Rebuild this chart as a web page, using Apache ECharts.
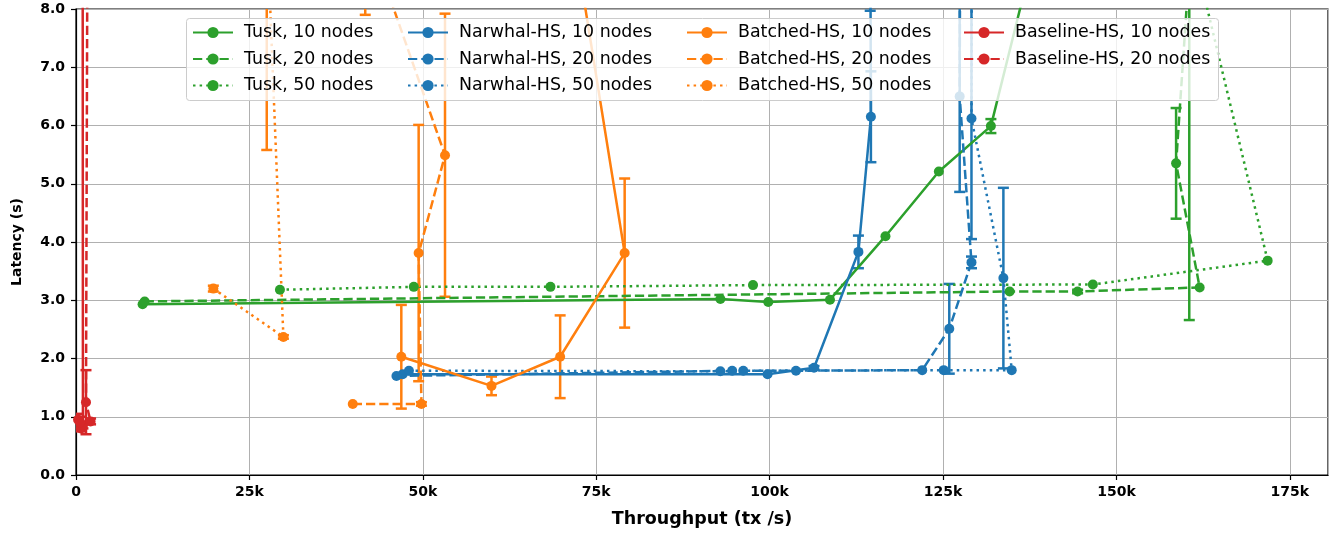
<!DOCTYPE html>
<html><head><meta charset="utf-8">
<script src="https://cdn.jsdelivr.net/npm/echarts@6/dist/echarts.min.js"></script>
<style>html,body{margin:0;padding:0;background:#fff}#c{width:1335px;height:533px}</style>
</head><body><div id="c"></div>
<script>
// ---- data (throughput tx/s, latency s, latency error s) ----
const xTickStep = 25000;
const yTickStep = 1;

const tusk10    = [[9600,2.93],[92900,3.02],[99800,2.97],[108700,3.01],[116700,4.10],[124400,5.21],[131900,5.99],[138600,9.2]];
const tusk10Err = [0,0,0,0,0,0,0.12,0.3];
const tusk20    = [[9900,2.98],[134600,3.15],[144400,3.15],[162000,3.22],[158600,5.35],[160500,8.7]];
const tusk20Err = [0,0,0.03,0,0.95,6.04];
const tusk50    = [[29400,3.18],[48700,3.23],[68400,3.23],[97600,3.26],[146600,3.27],[171800,3.68],[161100,9.0]];
const tusk50Err = [0,0,0,0,0,0,0];

const narwhal10    = [[47100,1.73],[99700,1.73],[106400,1.84],[112800,3.83],[114600,6.15],[114500,10.0]];
const narwhal10Err = [0,0,0.03,0.28,0.78,2.03];
const narwhal20    = [[46200,1.70],[94600,1.79],[103800,1.79],[122000,1.80],[125900,2.51],[129100,3.65],[127400,6.50],[127500,10.5]];
const narwhal20Err = [0,0,0,0,0.77,0.1,1.64,1.5];
const narwhal50    = [[48000,1.79],[92900,1.78],[96200,1.79],[125100,1.80],[134900,1.80],[133700,3.38],[129100,6.12],[129200,10.5]];
const narwhal50Err = [0,0,0,0,0,1.55,2.07,1.5];

const batched10    = [[46900,2.03],[59900,1.53],[69800,2.03],[79100,3.81],[72100,9.0]];
const batched10Err = [0.89,0.16,0.71,1.28,0.5];
const batched20    = [[39900,1.22],[49800,1.22],[49400,3.81],[53200,5.49],[41700,9.4]];
const batched20Err = [0,0.03,2.2,2.43,1.5];
const batched50    = [[19800,3.20],[29900,2.37],[27500,9.5]];
const batched50Err = [0.05,0.03,3.92];

const baseline10    = [[300,0.95],[700,0.80],[1000,0.85],[940,14]];
const baseline10Err = [0.1,0.05,0.05,1];
const baseline20    = [[600,0.90],[2100,0.92],[1440,1.25],[1770,14]];
const baseline20Err = [0.1,0.05,0.55,1];

const X_MIN = 0, X_MAX = 180500, Y_MIN = 0, Y_MAX = 8;

// ---- styling ----
const C = {green:'#2ca02c', blue:'#1f77b4', orange:'#ff7f0e', red:'#d62728'};
const DASH = [9.25,4];
const DOT = [2.5,4.1];
const FONT = 'DejaVu Sans';

const defs = [
  ['Tusk, 10 nodes', tusk10, tusk10Err, C.green, 'solid'],
  ['Tusk, 20 nodes', tusk20, tusk20Err, C.green, DASH],
  ['Tusk, 50 nodes', tusk50, tusk50Err, C.green, DOT],
  ['Narwhal-HS, 10 nodes', narwhal10, narwhal10Err, C.blue, 'solid'],
  ['Narwhal-HS, 20 nodes', narwhal20, narwhal20Err, C.blue, DASH],
  ['Narwhal-HS, 50 nodes', narwhal50, narwhal50Err, C.blue, DOT],
  ['Batched-HS, 10 nodes', batched10, batched10Err, C.orange, 'solid'],
  ['Batched-HS, 20 nodes', batched20, batched20Err, C.orange, DASH],
  ['Batched-HS, 50 nodes', batched50, batched50Err, C.orange, DOT],
  ['Baseline-HS, 10 nodes', baseline10, baseline10Err, C.red, 'solid'],
  ['Baseline-HS, 20 nodes', baseline20, baseline20Err, C.red, DASH]
];

function errRender(params, api){
  const x = api.value(0), y = api.value(1), e = api.value(2);
  if (!(e > 0)) return null;
  const lo = y - e, hi = y + e;
  const loC = Math.max(lo, Y_MIN), hiC = Math.min(hi, Y_MAX);
  if (loC >= hiC) return null;
  const p1 = api.coord([x, loC]), p2 = api.coord([x, hiC]);
  const style = {stroke: api.visual('color'), lineWidth: 2.5, fill: null};
  const cap = 5.5;
  const ch = [{type:'line', shape:{x1:p1[0],y1:p1[1],x2:p2[0],y2:p2[1]}, style}];
  if (lo >= Y_MIN) ch.push({type:'line', shape:{x1:p1[0]-cap,y1:p1[1],x2:p1[0]+cap,y2:p1[1]}, style});
  if (hi <= Y_MAX) ch.push({type:'line', shape:{x1:p2[0]-cap,y1:p2[1],x2:p2[0]+cap,y2:p2[1]}, style});
  return {type:'group', children: ch};
}

const series = [];
defs.forEach(([name, pts, errs, color, dash]) => {
  series.push({
    name, type:'line', data: pts, symbol:'circle', symbolSize: 10, showSymbol: true,
    clip: true, z: 2,
    itemStyle:{color}, lineStyle:{color, width:2.5, type: dash, cap:'butt'},
    emphasis:{disabled:true}
  });
  series.push({
    name: name + ' err', type:'custom', renderItem: errRender, clip: true, z: 2,
    itemStyle:{color},
    data: pts.map((p,i) => [p[0], p[1], errs[i]]),
    encode:{x:0, y:1}
  });
});

const legendCols = [
  {left:192, names: defs.slice(0,3).map(d=>d[0])},
  {left:407, names: defs.slice(3,6).map(d=>d[0])},
  {left:686, names: defs.slice(6,9).map(d=>d[0])},
  {left:963, names: defs.slice(9,11).map(d=>d[0])}
];

const chart = echarts.init(document.getElementById('c'), null, {renderer:'canvas'});
chart.setOption({
  animation: false,
  backgroundColor: '#fff',
  textStyle: {fontFamily: FONT},
  grid: {left:76, top:9, width:1252, height:467, show:true, borderColor:'#000', borderWidth:1.2, backgroundColor:'transparent'},
  xAxis: {
    type:'value', min:X_MIN, max:X_MAX, interval:xTickStep,
    name:'Throughput (tx /s)', nameLocation:'middle', nameGap:35,
    nameTextStyle:{fontFamily:FONT, fontSize:17.5, fontWeight:'bold', color:'#000'},
    axisLine:{show:true, onZero:false, lineStyle:{color:'#000', width:1.2}},
    axisTick:{show:true, length:5, lineStyle:{color:'#000', width:1.2}},
    axisLabel:{fontFamily:FONT, fontSize:14, fontWeight:'bold', color:'#000', margin:10,
      showMaxLabel:false,
      formatter: v => (Math.round(v) % xTickStep === 0) ? (v === 0 ? '0' : (v/1000) + 'k') : ''},
    splitLine:{show:true, lineStyle:{color:'#b0b0b0', width:1}}
  },
  yAxis: {
    type:'value', min:Y_MIN, max:Y_MAX, interval:yTickStep,
    name:'Latency (s)', nameLocation:'middle', nameGap:52, nameRotate:90,
    nameTextStyle:{fontFamily:FONT, fontSize:14, fontWeight:'bold', color:'#000'},
    axisLine:{show:true, onZero:false, lineStyle:{color:'#000', width:1.2}},
    axisTick:{show:true, length:5, lineStyle:{color:'#000', width:1.2}},
    axisLabel:{fontFamily:FONT, fontSize:14, fontWeight:'bold', color:'#000', margin:11,
      formatter: v => v.toFixed(1)},
    splitLine:{show:true, lineStyle:{color:'#b0b0b0', width:1}}
  },
  graphic: {elements: [{
    type:'rect', z: 50, silent:true,
    shape:{x:186.5, y:18.5, width:1032, height:82, r:3},
    style:{fill:'rgba(255,255,255,0.8)', stroke:'#cccccc', lineWidth:1}
  }]},
  legend: legendCols.map(col => ({
    data: col.names, orient:'vertical', left: col.left, top: 24,
    itemWidth: 40, itemHeight: 14, itemGap: 9.5, selectedMode:false, z: 60,
    padding: 0,
    textStyle:{fontFamily:FONT, fontSize:17.4, color:'#000', padding:[0,0,0,6]}
  })),
  series
});
</script>
</body></html>
